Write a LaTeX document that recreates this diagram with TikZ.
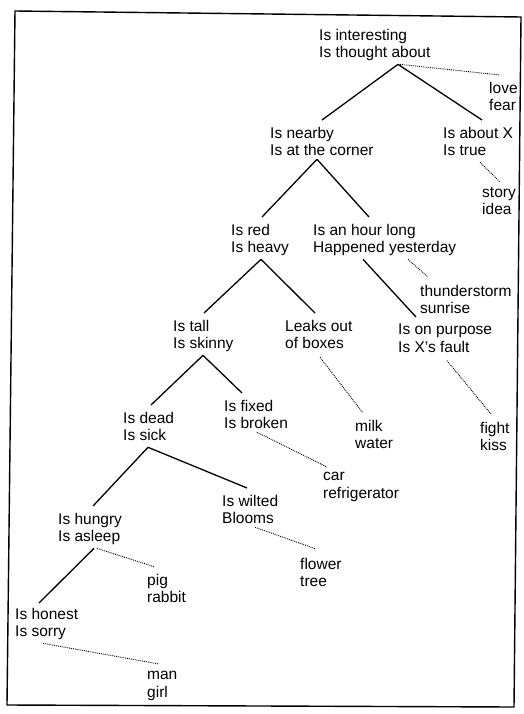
\documentclass[tikz,border=0pt]{standalone}
\usepackage{fontspec}
\setmainfont{Liberation Sans}

\begin{document}
\begin{tikzpicture}[x=1pt, y=-1pt,
    lab/.style={anchor=north west, align=left, inner sep=3pt, font=\fontsize{15.5}{17.5}\selectfont},
    branch/.style={line width=1.3pt},
    hint/.style={densely dotted, line width=0.9pt}]

            \useasboundingbox(0, 0) rectangle (524, 714);
            \draw[line width=1.4pt](15, 11) -- (521, 17) -- (514, 707) -- (7, 705) -- cycle;

            %%questions
            \node[lab] at(316, 26)(root){Is interesting\\Is thought about};
            \node[lab] at(267, 124)(near){Is nearby\\Is at the corner};
            \node[lab] at(440, 124)(about){Is about X\\Is true};
            \node[lab] at(228, 221)(red){Is red\\Is heavy};
            \node[lab] at(310, 221)(hour){Is an hour long\\Happened yesterday};
            \node[lab] at(170, 317)(tall){Is tall\\Is skinny};
            \node[lab] at(282, 317)(leaks){Leaks out\\of boxes};
            \node[lab] at(395, 321)(purpose){Is on purpose\\Is X's fault};
            \node[lab] at(221, 397)(fixed){Is fixed\\Is broken};
            \node[lab] at(120, 409)(dead){Is dead\\Is sick};
            \node[lab] at(219, 492)(wilted){Is wilted\\Blooms};
            \node[lab] at(55, 510)(hungry){Is hungry\\Is asleep};
            \node[lab] at(12, 605)(honest){Is honest\\Is sorry};

            %%objects
            \node[lab] at(486, 79)(love){love\\fear};
            \node[lab] at(479, 184)(story){story\\idea};
            \node[lab] at(417, 282)(thunder){thunderstorm\\sunrise};
            \node[lab] at(352, 417)(milk){milk\\water};
            \node[lab] at(477, 419)(fight){fight\\kiss};
            \node[lab] at(320, 469)(car){car\\refrigerator};
            \node[lab] at(297, 555)(flower){flower\\tree};
            \node[lab] at(144, 571)(pig){pig\\rabbit};
            \node[lab] at(144, 668)(man){man\\girl};

            %%branches
            \draw[branch]([xshift=82pt]root.south west) to ([xshift=55pt, yshift=4pt]near.north west);
            \draw[branch]([xshift=82pt]root.south west) to ([xshift=42pt, yshift=4pt]about.north west);
            \draw[branch]([xshift=50pt]near.south west) to ([xshift=34pt, yshift=4pt]red.north west);
            \draw[branch]([xshift=50pt]near.south west) to ([xshift=59pt, yshift=4pt]hour.north west);
            \draw[branch]([xshift=33pt]red.south west) to ([xshift=34pt, yshift=4pt]tall.north west);
            \draw[branch]([xshift=33pt]red.south west) to ([xshift=33pt, yshift=4pt]leaks.north west);
            \draw[branch]([xshift=53pt]hour.south west) to ([xshift=21pt, yshift=4pt]purpose.north west);
            \draw[branch]([xshift=33pt]tall.south west) to ([xshift=31pt, yshift=4pt]dead.north west);
            \draw[branch]([xshift=33pt]tall.south west) to ([xshift=21pt, yshift=4pt]fixed.north west);
            \draw[branch]([xshift=28pt, yshift=-3pt]dead.south west) to ([xshift=38pt, yshift=4pt]hungry.north west);
            \draw[branch]([xshift=28pt, yshift=-3pt]dead.south west) to ([xshift=28pt, yshift=4pt]wilted.north west);
            \draw[branch]([xshift=39pt]hungry.south west) to ([xshift=27pt, yshift=2pt]honest.north west);

            %%dotted
            \draw[hint]([xshift=84pt]root.south west) to ([xshift=14pt, yshift=4pt]love.north west);
            \draw[hint]([xshift=40pt, yshift=-3pt]about.south west) to ([xshift=21pt, yshift=2pt]story.north west);
            \draw[hint]([xshift=98pt]hour.south west) to ([xshift=11pt, yshift=5pt]thunder.north west);
            \draw[hint]([xshift=38pt, yshift=-5pt]leaks.south west) to ([xshift=11pt, yshift=4pt]milk.north west);
            \draw[hint]([xshift=52pt, yshift=-5pt]purpose.south west) to ([xshift=14pt, yshift=5pt]fight.north west);
            \draw[hint]([xshift=36pt]fixed.south west) to ([xshift=7pt, yshift=2pt]car.north west);
            \draw[hint]([xshift=36pt]wilted.south west) to ([xshift=19pt, yshift=6pt]flower.north west);
            \draw[hint]([xshift=42pt]hungry.south west) to ([xshift=11pt, yshift=4pt]pig.north west);
            \draw[hint]([xshift=31pt]honest.south west) to ([xshift=15pt, yshift=4pt]man.north west);
        \end{tikzpicture}
\end{document}
